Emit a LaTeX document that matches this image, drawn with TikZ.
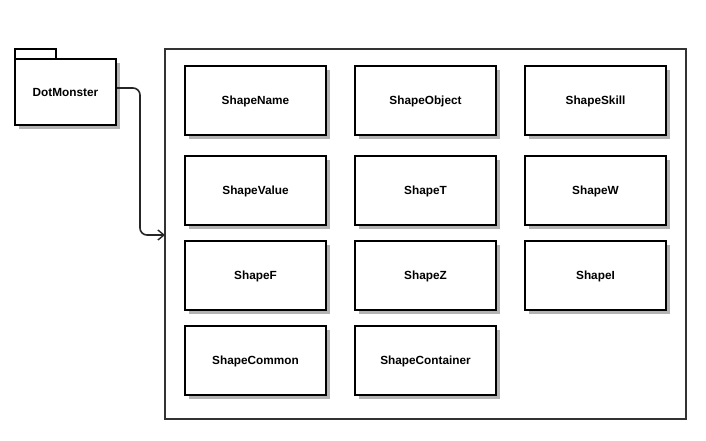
\documentclass[tikz,border=0pt]{standalone}
\usepackage{fontspec}
\setmainfont{Liberation Sans}
\usetikzlibrary{arrows.meta}
\definecolor{shadowgray}{HTML}{B3B3B3}
\definecolor{framegray}{HTML}{333333}
\begin{document}
\begin{tikzpicture}[x=1pt,y=-1pt,
  labelfont/.style={font=\fontsize{11.8}{13}\selectfont\bfseries},
  shapebox/.style={draw=black, line width=2pt, fill=white, minimum width=141pt, minimum height=69pt,
    inner sep=0pt, text depth=0pt, labelfont},
  link/.style={draw=black!85, line width=1.6pt, rounded corners=7pt,
    -{Straight Barb[length=6pt,width=10pt,line width=1.4pt]}}]
  \useasboundingbox (0,0) rectangle (706,440);
  \fill[white] (0,0) rectangle (706,440);

  % outer container frame
  \draw[framegray, line width=2pt] (165,49) rectangle (686,419);
  \coordinate (inlet) at (165,235);

  % package icon with tab and drop shadow
  \fill[shadowgray] (19,63) rectangle (120,129);
  \draw[line width=2pt, fill=white] (15,49) rectangle (56,59);
  \node[draw=black, line width=2pt, fill=white, minimum width=101pt, minimum height=66pt, inner sep=0pt,
        text depth=0pt, labelfont] (pkg) at (65.5,92) {DotMonster};

  % member boxes: shadow first, then the box
  \foreach \name/\txt/\cx/\cy in {
      sname/ShapeName/255.5/100.5, sobj/ShapeObject/425.5/100.5, sskill/ShapeSkill/595.5/100.5,
      sval/ShapeValue/255.5/190.5, st/ShapeT/425.5/190.5, sw/ShapeW/595.5/190.5,
      sf/ShapeF/255.5/275.5, sz/ShapeZ/425.5/275.5, si/ShapeI/595.5/275.5,
      scommon/ShapeCommon/255.5/360.5, scont/ShapeContainer/425.5/360.5} {
    \fill[shadowgray] (\cx-70.5+4,\cy-34.5+4) rectangle (\cx+70.5+4,\cy+34.5+4);
    \node[shapebox] (\name) at (\cx,\cy) {\txt};
  }

  % dependency from the package into the container
  \draw[link] ([yshift=4pt]pkg.east) -- (140,88) -- (140,235) -- (inlet);
\end{tikzpicture}
\end{document}
